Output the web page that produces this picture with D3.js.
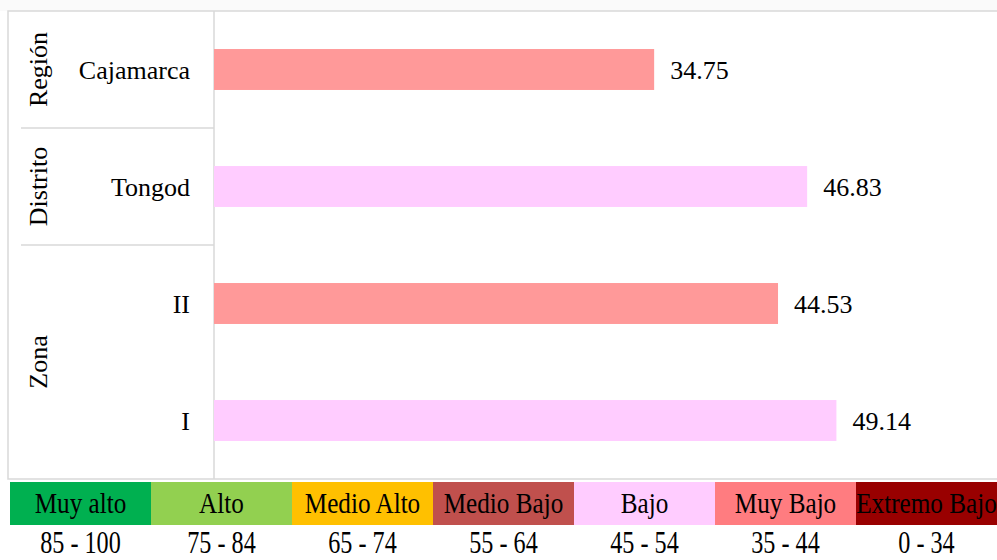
<!DOCTYPE html>
<html>
<head>
<meta charset="utf-8">
<script src="https://cdn.jsdelivr.net/npm/d3@7"></script>
<style>
  body { margin: 0; background: #fff; }
  svg text { font-family: "Liberation Serif", "Times New Roman", serif; fill: #000; }
</style>
</head>
<body>
<div id="chart"></div>
<script>
// categories (top to bottom) and values
const categories = ["Cajamarca", "Tongod", "II", "I"];
const values = [34.75, 46.83, 44.53, 49.14];
const barColors = ["#FF9999", "#FFCCFF", "#FF9999", "#FFCCFF"];

// group labels of the second category level
const groups = [
	{ name: "Región", from: "Cajamarca", to: "Cajamarca" },
	{ name: "Distrito", from: "Tongod", to: "Tongod" },
	{ name: "Zona", from: "II", to: "I" }
];

// legend
const legendLabels = ["Muy alto", "Alto", "Medio Alto", "Medio Bajo", "Bajo", "Muy Bajo", "Extremo Bajo"];
const legendRanges = ["85 - 100", "75 - 84", "65 - 74", "55 - 64", "45 - 54", "35 - 44", "0 - 34"];
const legendColors = ["#00B050", "#92D050", "#FFC000", "#C0504D", "#FFCCFF", "#FF7C80", "#990000"];

{
	const W = 997, H = 560;
	const frame = { left: 8, top: 11, right: 1000, bottom: 479 };
	const plotLeft = 214;
	const fontSize = 26;

	const svg = d3.select("#chart").append("svg")
		.attr("width", W)
		.attr("height", H);

	svg.append("rect")
		.attr("x", 0).attr("y", 0)
		.attr("width", W).attr("height", frame.top)
		.attr("fill", "#fafafa");

	let x = d3.scaleLinear()
		.domain([0, 60])
		.range([plotLeft, plotLeft + 60 * 12.666]);

	let y = d3.scaleBand()
		.domain(categories)
		.range([frame.top, frame.bottom])
		.paddingInner(0.65)
		.paddingOuter(0.325);

	const step = y.step();
	const bandTop = c => y(c) - step * y.paddingInner() / 2;
	const bandBottom = c => bandTop(c) + step;

	// frame
	svg.append("rect")
		.attr("x", frame.left).attr("y", frame.top)
		.attr("width", frame.right - frame.left)
		.attr("height", frame.bottom - frame.top)
		.attr("fill", "#fff")
		.attr("stroke", "#d9d9d9")
		.attr("stroke-width", 1.5);

	// divider between labels and plot
	svg.append("line")
		.attr("x1", plotLeft).attr("x2", plotLeft)
		.attr("y1", frame.top).attr("y2", frame.bottom)
		.attr("stroke", "#d9d9d9").attr("stroke-width", 1.5);

	// group separators
	svg.selectAll("line.sep")
		.data(groups.slice(1))
		.enter().append("line")
			.classed("sep", true)
			.attr("x1", 21).attr("x2", plotLeft)
			.attr("y1", g => bandTop(g.from))
			.attr("y2", g => bandTop(g.from))
			.attr("stroke", "#d9d9d9").attr("stroke-width", 1.5);

	// bars
	svg.selectAll("rect.bar")
		.data(categories)
		.enter().append("rect")
			.classed("bar", true)
			.attr("x", x(0))
			.attr("y", c => y(c))
			.attr("width", (c, i) => x(values[i]) - x(0))
			.attr("height", y.bandwidth())
			.attr("fill", (c, i) => barColors[i]);

	// value labels
	svg.selectAll("text.value")
		.data(categories)
		.enter().append("text")
			.classed("value", true)
			.attr("x", (c, i) => x(values[i]) + 16)
			.attr("y", c => y(c) + y.bandwidth() / 2)
			.attr("dy", "0.35em")
			.style("font-size", fontSize + "px")
			.text((c, i) => values[i].toFixed(2));

	// category labels
	svg.selectAll("text.cat")
		.data(categories)
		.enter().append("text")
			.classed("cat", true)
			.attr("x", 190)
			.attr("y", c => y(c) + y.bandwidth() / 2)
			.attr("dy", "0.35em")
			.attr("text-anchor", "end")
			.style("font-size", fontSize + "px")
			.text(c => c);

	// group labels (rotated)
	svg.selectAll("text.group")
		.data(groups)
		.enter().append("text")
			.classed("group", true)
			.attr("transform", g => {
				const cy = (bandTop(g.from) + bandBottom(g.to)) / 2;
				return "translate(38," + cy + ") rotate(-90)";
			})
			.attr("dy", "0.35em")
			.attr("text-anchor", "middle")
			.style("font-size", fontSize + "px")
			.text(g => g.name);

	// legend
	let lx = d3.scaleBand()
		.domain(legendLabels)
		.range([10, 997]);

	const legendTop = 482, legendH = 43;
	const cx = d => lx(d) + lx.bandwidth() / 2;

	let legend = svg.append("g").classed("legend", true);

	legend.selectAll("rect")
		.data(legendLabels)
		.enter().append("rect")
			.attr("x", d => lx(d))
			.attr("y", legendTop)
			.attr("width", lx.bandwidth())
			.attr("height", legendH)
			.attr("fill", (d, i) => legendColors[i]);

	// legend text is drawn narrow and tall, as in the original
	legend.selectAll("text.lab")
		.data(legendLabels)
		.enter().append("text")
			.classed("lab", true)
			.attr("transform", d => "translate(" + cx(d) + ",513) scale(0.84,1)")
			.attr("text-anchor", "middle")
			.style("font-size", "30px")
			.text(d => d);

	legend.selectAll("text.range")
		.data(legendRanges)
		.enter().append("text")
			.classed("range", true)
			.attr("transform", (d, i) => "translate(" + cx(legendLabels[i]) + ",553) scale(0.78,1)")
			.attr("text-anchor", "middle")
			.style("font-size", "31px")
			.text(d => d);
}
</script>
</body>
</html>
